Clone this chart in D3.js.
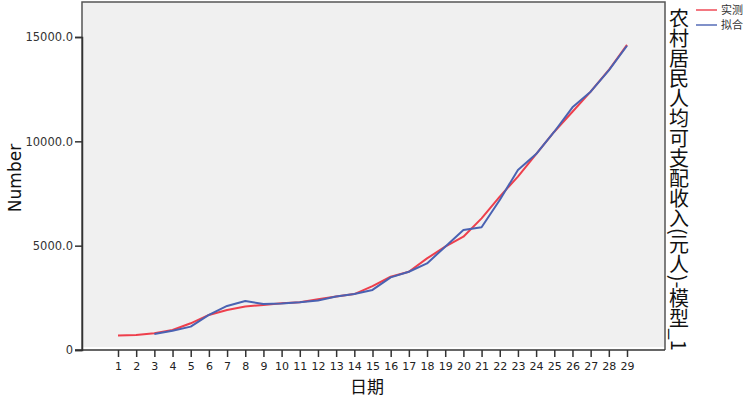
<!DOCTYPE html>
<html>
<head>
<meta charset="utf-8">
<script src="https://d3js.org/d3.v7.min.js"></script>
<style>
  body { margin: 0; background: #fff; }
  text { font-family: "Noto Sans CJK SC", "DejaVu Sans", sans-serif; }
</style>
</head>
<body>
<div id="chart"></div>
<script>

// days 1..29
var days = [1,2,3,4,5,6,7,8,9,10,11,12,13,14,15,16,17,18,19,20,21,22,23,24,25,26,27,28,29];

// observed (实测)
var actual = [690,720,800,960,1280,1680,1920,2080,2160,2240,2290,2430,2560,2680,3060,3510,
              3750,4390,4950,5430,6310,7350,8310,9390,10460,11420,12380,13420,14620];

// fitted (拟合), no value for first two days
var fitted = [null,null,770,920,1120,1680,2110,2350,2200,2230,2290,2370,2560,2680,2880,3480,
              3750,4150,4950,5750,5880,7190,8630,9390,10460,11630,12380,13400,14580];

var yTicks = [0,5000,10000,15000];
var seriesNames = ["实测","拟合"];
var seriesColors = ["#ee3f4c","#4a62b2"];

var W = 749, H = 397;
// plot box (note: "top" is reserved on window, so use other names)
var pLeft = 82, pRight = 665, pTop = 2, pBottom = 350;

var svg = d3.select("#chart").append("svg")
            .attr("width", W)
            .attr("height", H);

// plot background + frame
svg.append("rect")
   .attr("x", pLeft).attr("y", pTop)
   .attr("width", pRight-pLeft).attr("height", pBottom-pTop-3)
   .attr("fill", "#f0f0f0");
svg.append("path")
   .attr("d", "M"+pLeft+","+pBottom+" V"+pTop+" H"+pRight+" V"+pBottom)
   .attr("fill","none")
   .attr("stroke","#555")
   .attr("stroke-width",1.5);

var x = d3.scaleLinear().domain([1,29]).range([118,627]);
var y = d3.scaleLinear().domain([0,15000]).range([pBottom, 37]);

// y axis
var yAxis = svg.append("g")
   .attr("transform","translate("+pLeft+",0)")
   .call(d3.axisLeft(y).tickValues(yTicks).tickSize(7).tickPadding(2)
          .tickFormat((d) => { return d == 0 ? "0" : d3.format(".1f")(d) }));
yAxis.select(".domain").attr("stroke","#333").attr("stroke-width",1.5);
yAxis.selectAll(".tick line").attr("stroke","#333").attr("stroke-width",1.5);
yAxis.selectAll(".tick text")
     .attr("fill","#333")
     .style("font-family","'DejaVu Sans', sans-serif")
     .style("font-size","11.5px");

// x axis
var xAxis = svg.append("g")
   .attr("transform","translate(0,"+pBottom+")")
   .call(d3.axisBottom(x).tickValues(days).tickSize(7).tickPadding(5).tickFormat(d3.format("d")));
xAxis.select(".domain").remove();
svg.append("line")
   .attr("x1", pLeft-7).attr("x2", pRight)
   .attr("y1", pBottom).attr("y2", pBottom)
   .attr("stroke","#333").attr("stroke-width",1.5);
xAxis.selectAll(".tick line").attr("stroke","#333").attr("stroke-width",1.5);
xAxis.selectAll(".tick text")
     .attr("fill","#222")
     .style("font-family","'DejaVu Sans', sans-serif")
     .style("font-size","11px");

// axis titles
svg.append("text")
   .attr("transform","translate(21,178) rotate(-90)")
   .attr("text-anchor","middle")
   .style("font-family","'DejaVu Sans', sans-serif")
   .style("font-size","17px")
   .attr("fill","#111")
   .text("Number");

svg.append("text")
   .attr("x",367).attr("y",393)
   .attr("text-anchor","middle")
   .style("font-size","17px")
   .attr("fill","#111")
   .text("日期");

// right side vertical title
svg.append("text")
   .attr("x",679).attr("y",8)
   .attr("writing-mode","vertical-rl")
   .style("font-size","20px")
   .attr("fill","#111")
   .text("农村居民人均可支配收入(元人)-模型_1");

// lines
var line = d3.line()
             .defined((d) => { return d.v != null })
             .x((d) => { return x(d.day) })
             .y((d) => { return y(d.v) });

[actual, fitted].forEach((vals, k) => {
  var pts = days.map((d,i) => { return {day:d, v:vals[i]} });
  svg.append("path")
     .datum(pts)
     .attr("d", line)
     .attr("fill","none")
     .attr("stroke", seriesColors[k])
     .attr("stroke-width", 2)
     .attr("stroke-linejoin","round");
});

// legend
var legend = svg.selectAll(".legend")
                .data(seriesNames)
                .enter()
                .append("g")
                .attr("transform",(d,i) => { return "translate(696,"+(10+i*15)+")" });
legend.append("line")
      .attr("x1",0).attr("x2",21)
      .attr("stroke",(d,i) => { return seriesColors[i] })
      .attr("stroke-opacity",0.7)
      .attr("stroke-width",2);
legend.append("text")
      .attr("x",25).attr("y",4)
      .style("font-size","11px")
      .attr("fill","#333")
      .text((d) => { return d });

</script>
</body>
</html>
